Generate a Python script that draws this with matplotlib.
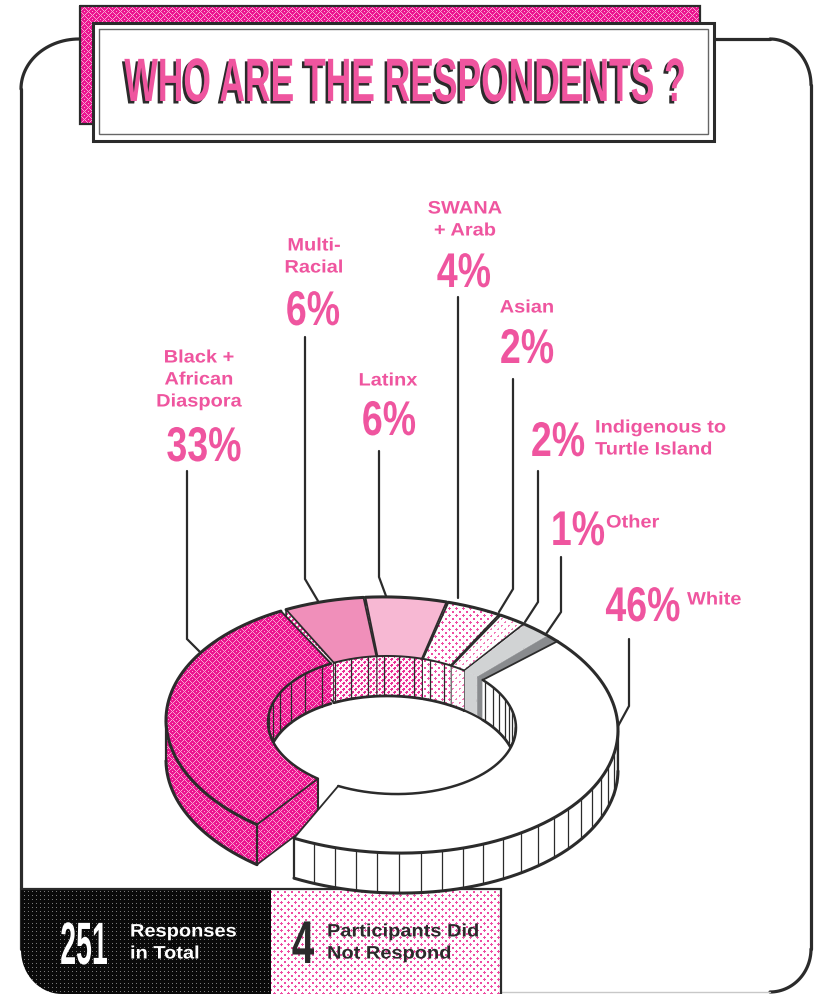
"""Isometric ring chart of survey respondents, with a halftone print look."""

import matplotlib

matplotlib.use("Agg")
import matplotlib.patheffects as pe
import matplotlib.pyplot as plt
import numpy as np
from matplotlib.colors import to_rgb, to_rgba
from matplotlib.patches import Polygon
from matplotlib.transforms import Affine2D

categories = ["White", "Black + African Diaspora", "Multi-Racial", "Latinx",
              "SWANA + Arab", "Asian", "Indigenous to Turtle Island", "Other"]
percents = [46, 33, 6, 6, 4, 2, 2, 1]
responses_total = 251
no_response = 4

INK = "#2b2b2b"
PINK = "#ef559f"
W, H = 815, 995

# ring geometry, in pixels of the final image
CX, CY = 392, 726
OUTER = (226, 128)
INNER = (124, 69)
DEPTH = 40
TILT = 0.022
START_ANGLE = 43.0
DEG_PER_PCT = 3.45
# degrees of empty space left after each slice, going clockwise
GAPS = [11.0, 1.5, 0.5, 0.5, 0.5, 0.5, 0.5, 0.0]
# back slices are painted first so nearer ones overlap them
DRAW_ORDER = [3, 2, 4, 5, 6, 7, 1, 0]


class Tall(pe.AbstractPathEffect):
    """Draw text stretched vertically from its baseline, optionally shifted and recoloured."""

    def __init__(self, sy, shift=(0, 0), color=None):
        self.sy = sy
        self.shift = shift
        self.color = color

    def draw_path(self, renderer, gc, tpath, affine, rgbFace=None):
        tr = Affine2D().scale(1, self.sy) + affine + Affine2D().translate(*self.shift)
        face = to_rgba(self.color) if self.color else rgbFace
        renderer.draw_path(gc, tpath, tr, face)


def tile(mask, fg, bg):
    out = np.empty(mask.shape + (3,))
    out[...] = to_rgb(bg)
    out[mask] = to_rgb(fg)
    return out


yy, xx = np.mgrid[0:H, 0:W]
# basket weave: short diagonal dashes that flip direction from block to block
weave = np.where((xx // 4 + yy // 4) % 2 == 0, (xx + yy) % 4 == 0, (xx - yy) % 4 == 0)
tex_weave = tile(weave, "#f9a3d0", "#ec1590")
tex_dense = tile(((xx + yy) % 6 < 3) & ((xx - yy) % 6 < 4), "#ea2f95", "#fff4f9")
tex_dots = tile(((xx + yy) % 7 < 3) & ((xx - yy) % 7 < 3), "#ee4da3", "#ffffff")
tex_fine = tile(((xx + yy) % 7 < 2) & ((xx - yy) % 7 < 3), "#f27bb8", "#ffffff")
tex_black = tile((xx % 4 < 1) & (yy % 4 < 1), "#7a7a7a", "#0a0a0a")

# face and wall fill per slice: a colour string or a halftone array
tops = ["#ffffff", tex_weave, "#f08fba", "#f7b8d3", tex_dots, tex_fine, "#d1d3d4", "#898b8e"]
walls = ["#ffffff", tex_weave, tex_dense, tex_dense, tex_dots, tex_fine, "#d1d3d4", "#898b8e"]
has_edges = [True, True, True, True, True, True, False, False]
stripe_step = [5.5, 10.0, 8.0, 7.0, 7.0, 99.0, 99.0, 99.0]
front_stripes = [True, False, False, False, False, False, False, False]

fig = plt.figure(figsize=(W / 100, H / 100), dpi=100)
ax = fig.add_axes([0, 0, 1, 1])
ax.set_xlim(0, W)
ax.set_ylim(H, 0)
ax.axis("off")
z_counter = [2.0]


def next_z():
    z_counter[0] += 0.01
    return z_counter[0]


def fill(pts, face):
    """Fill a polygon with a flat colour or a clipped halftone."""
    z = next_z()
    if isinstance(face, str):
        ax.add_patch(Polygon(pts, closed=True, fc=face, ec=face, lw=0.3, zorder=z))
    else:
        clip = Polygon(pts, closed=True, transform=ax.transData)
        im = ax.imshow(face, extent=(0, W, H, 0), interpolation="nearest",
                       aspect="auto", zorder=z)
        im.set_clip_path(clip)


def line(pts, lw=1.0, color=INK, z=None):
    pts = np.asarray(pts, dtype=float)
    ax.plot(pts[:, 0], pts[:, 1], color=color, lw=lw, solid_capstyle="round",
            solid_joinstyle="miter", zorder=next_z() if z is None else z)


def rim(radii, theta):
    t = np.radians(theta)
    x = CX + radii[0] * np.cos(t)
    y = CY - radii[1] * np.sin(t) + TILT * (x - CX)
    return np.column_stack([x, y])


def hole_front(x):
    """Lower edge of the hole at the given x, used to cut the back walls."""
    u = np.clip((x - CX) / INNER[0], -1, 1)
    return CY + INNER[1] * np.sqrt(1 - u ** 2) + TILT * (x - CX)


def draw_slice(low, high, top, wall, edges, step, striped_front):
    th = np.linspace(low, high, 300)
    outer_top = rim(OUTER, th)
    inner_top = rim(INNER, th)

    # cut ends that face the viewer
    for ang, visible in ((high, np.cos(np.radians(high)) < 0), (low, np.cos(np.radians(low)) > 0)):
        if not visible:
            continue
        a, b = rim(OUTER, ang)[0], rim(INNER, ang)[0]
        quad = [a, b, b + (0, DEPTH), a + (0, DEPTH)]
        fill(quad, wall)
        if edges:
            line([a, a + (0, DEPTH), b + (0, DEPTH), b], 1.2)
            line([b, b + (0, DEPTH)], 1.5)

    # wall of the hole, on the far side of the ring
    back = th[np.sin(np.radians(th)) > 0]
    if back.size:
        upper = rim(INNER, back)
        lower = upper.copy()
        lower[:, 1] = np.minimum(upper[:, 1] + DEPTH, hole_front(upper[:, 0]))
        fill(np.vstack([upper, lower[::-1]]), wall)
        if edges:
            for ang in np.arange(back.min() + step / 2, back.max(), step):
                p = rim(INNER, ang)[0]
                q = (p[0], min(p[1] + DEPTH, hole_front(p[0])))
                line([p, q], 0.9)
            line(lower, 2.0)
        else:
            line(lower, 1.6)

    # outer wall, on the near side of the ring
    front = th[np.sin(np.radians(th)) < 0]
    if front.size:
        upper = rim(OUTER, front)
        lower = upper + (0, DEPTH)
        fill(np.vstack([upper, lower[::-1]]), wall)
        if striped_front:
            for ang in np.arange(front.min() + step, front.max(), step):
                p = rim(OUTER, ang)[0]
                line([p, p + (0, DEPTH)], 0.9)
        line(upper, 0.9)
        line(lower, 2.2)
        line([upper[0], lower[0]], 1.6)
        line([upper[-1], lower[-1]], 1.6)

    # top surface
    fill(np.vstack([outer_top, inner_top[::-1]]), top)
    line(outer_top, 2.2)
    if edges:
        line(inner_top, 1.4 if back.size == th.size else 1.8)
        line([outer_top[0], inner_top[0]], 1.3)
        line([outer_top[-1], inner_top[-1]], 1.3)


# slice angles run clockwise from the start of the first slice
highs, lows = [], []
angle = START_ANGLE
for pct, gap in zip(percents, GAPS):
    highs.append(angle)
    angle -= pct * DEG_PER_PCT
    lows.append(angle)
    angle -= gap

# outer frame
phi = np.radians(np.linspace(0, 90, 30))
line(np.column_stack([79 - 58 * np.cos(phi), 90 - 50 * np.sin(phi)]), 2.3, z=1)
line(np.column_stack([770 + 41 * np.cos(phi), 86 - 46 * np.sin(phi)]), 2.3, z=1)
line(np.column_stack([770 + 41 * np.cos(phi), 950 + 43 * np.sin(phi)]), 2.3, z=1)
line([(21, 90), (21, 950)], 2.3, z=1)
line([(714, 40), (770, 40)], 2.3, z=1)
line([(811, 86), (811, 950)], 2.3, z=1)
line([(500, 993), (770, 993)], 1.0, color="#c8c8c8", z=1)

# title plate
z_counter[0] = 1.5
fill([(80, 7), (700, 7), (700, 125), (80, 125)], tex_weave)
line([(80, 7), (700, 7), (700, 125), (80, 125), (80, 7)], 1.6)
fill([(93, 24), (714, 24), (714, 142), (93, 142)], "#ffffff")
line([(93, 24), (714, 24), (714, 142), (93, 142), (93, 24)], 2.2)
line([(99, 30), (708, 30), (708, 135), (99, 135), (99, 30)], 1.0, color="#666666")
ax.text(405, 102, "WHO ARE THE RESPONDENTS ?", ha="center", va="baseline",
        fontsize=25.5, fontweight="bold", family="Liberation Sans", color=PINK, zorder=6,
        path_effects=[Tall(1.73, shift=(-2.5, -2.5), color=INK), Tall(1.73)])

# footer panels
z_counter[0] = 1.7
t = np.radians(np.linspace(0, 90, 20))
black_panel = np.vstack([
    [(21, 890), (271, 890), (271, 995)],
    np.column_stack([62 - 41 * np.sin(t), 951 + 44 * np.cos(t)]),
])
fill(black_panel, tex_black)
fill([(271, 890), (501, 890), (501, 995), (271, 995)], tex_dots)
line([(21, 890), (501, 890), (501, 995)], 1.6)
ax.text(84, 965, str(responses_total), ha="center", va="baseline", fontsize=20.5,
        fontweight="bold", family="Liberation Sans", color="white", zorder=6,
        path_effects=[Tall(2.1)])
ax.text(303, 964, str(no_response), ha="center", va="baseline", fontsize=29,
        fontweight="bold", family="Liberation Sans", color=INK, zorder=6,
        path_effects=[Tall(1.5)])
foot_style = dict(ha="left", va="center", fontsize=14.4, fontweight="bold",
                  family="Liberation Sans", linespacing=1.2, zorder=6,
                  path_effects=[Tall(0.9)])
ax.text(130, 943, "Responses\nin Total", color="white", **foot_style)
ax.text(327, 943, "Participants Did\nNot Respond", color=INK, **foot_style)

# ring, painted back to front
z_counter[0] = 3.0
for i in DRAW_ORDER:
    draw_slice(lows[i], highs[i], tops[i], walls[i], has_edges[i], stripe_step[i], front_stripes[i])

# leader lines from the labels to the ring
leaders = [
    [(187, 472), (187, 640), (203, 656)],
    [(305, 338), (305, 580), (318, 602)],
    [(379, 452), (379, 578), (386, 597)],
    [(458, 298), (458, 599)],
    [(513, 380), (513, 590), (499, 613)],
    [(538, 472), (538, 603), (525, 623)],
    [(561, 558), (561, 613), (546, 635)],
    [(629, 640), (629, 707), (617, 729)],
]
for pts in leaders:
    line(pts, 1.6, z=2)

label_style = dict(va="center", fontsize=14.4, fontweight="bold", family="Liberation Sans",
                   color=PINK, linespacing=1.2, zorder=6, path_effects=[Tall(0.9)])
ax.text(199, 380, "Black +\nAfrican\nDiaspora", ha="center", **label_style)
ax.text(314, 257, "Multi-\nRacial", ha="center", **label_style)
ax.text(388, 381, "Latinx", ha="center", **label_style)
ax.text(465, 220, "SWANA\n+ Arab", ha="center", **label_style)
ax.text(527, 308, "Asian", ha="center", **label_style)
ax.text(595, 439, "Indigenous to\nTurtle Island", ha="left", **label_style)
ax.text(606, 523, "Other", ha="left", **label_style)
ax.text(687, 600, "White", ha="left", **label_style)

# big percentages, one baseline per slice label
pct_pos = [(643, 622), (204, 462), (313, 326), (389, 436),
           (464, 288), (527, 364), (558, 457), (578, 546)]
for pct, (x, y) in zip(percents, pct_pos):
    ax.text(x, y, f"{pct}%", ha="center", va="baseline", fontsize=27, fontweight="bold",
            family="Liberation Sans", color=PINK, zorder=6, path_effects=[Tall(1.3)])

fig.savefig("out.png", dpi=100)
